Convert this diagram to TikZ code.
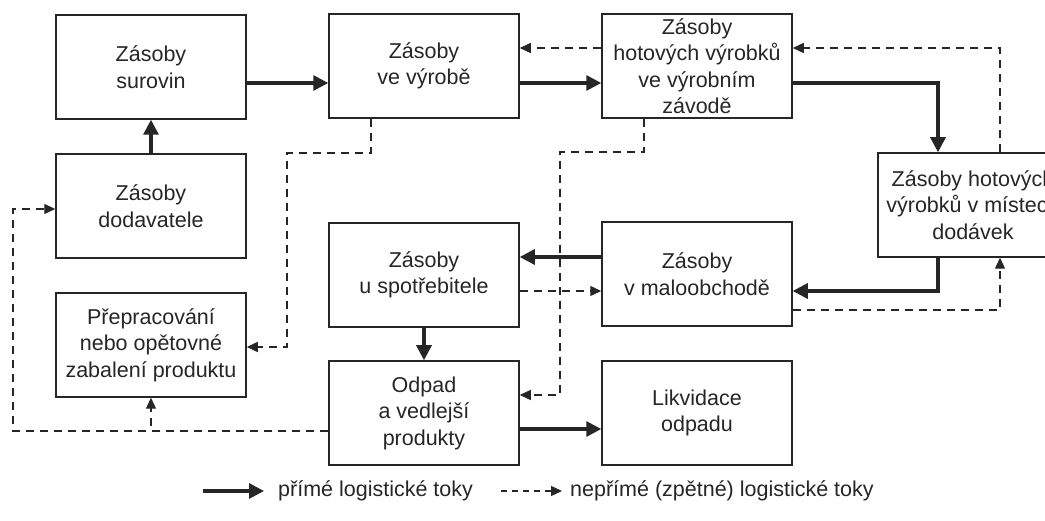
\documentclass[tikz,border=0pt]{standalone}
\usepackage{fontspec}
\setmainfont{Liberation Sans}
\usetikzlibrary{arrows.meta,calc}
\begin{document}
\begin{tikzpicture}[x=1pt,y=-1pt,
  box/.style={draw=black!85,line width=1.5pt,minimum width=190pt,minimum height=104pt,inner sep=0pt,align=center,font=\fontsize{21.5}{26.5}\selectfont,text=black!85},
  solidarrow/.style={draw=black!85,line width=3.2pt,-{Triangle[length=15pt,width=15pt]}},
  dasharrow/.style={draw=black!85,line width=1.4pt,dash pattern=on 8pt off 6pt,-{Triangle[length=11pt,width=10pt]}},
  legendtext/.style={anchor=west,inner sep=0pt,font=\fontsize{21.5}{26}\selectfont,text=black!85}]
\clip (0,0) rectangle (1045,521);
\fill[white] (0,0) rectangle (1045,521);
% nodes
\node[box] (sur) at (151,67) {Zásoby\\surovin};
\node[box] (vyr) at (424,66) {Zásoby\\ve výrobě};
\node[box] (hot) at (697,66) {Zásoby\\hotových výrobků\\ve výrobním\\závodě};
\node[box] (dod) at (151,206) {Zásoby\\dodavatele};
\node[box] (mis) at (973,205) {Zásoby hotových\\výrobků v místech\\dodávek};
\node[box] (spo) at (424,275) {Zásoby\\u spotřebitele};
\node[box] (mal) at (697,274) {Zásoby\\v maloobchodě};
\node[box] (pre) at (151,345) {Přepracování\\nebo opětovné\\zabalení produktu};
\node[box] (odp) at (424,413) {Odpad\\a vedlejší\\produkty};
\node[box] (lik) at (697,413) {Likvidace\\odpadu};
% direct flows
\draw[solidarrow] (sur.east |- 0,83) -- (vyr.west |- 0,83);
\draw[solidarrow] (dod.north) -- (sur.south);
\draw[solidarrow] (vyr.east |- 0,83) -- (hot.west |- 0,83);
\draw[solidarrow] (hot.east |- 0,83) -| (mis.north -| 938,0);
\draw[solidarrow] (mis.south -| 938,0) |- (mal.east |- 0,291);
\draw[solidarrow] (mal.west |- 0,257) -- (spo.east |- 0,257);
\draw[solidarrow] (spo.south) -- (odp.north);
\draw[solidarrow] (odp.east |- 0,429) -- (lik.west |- 0,429);
% indirect flows
\draw[dasharrow] (hot.west |- 0,48) -- (vyr.east |- 0,48);
\draw[dasharrow] (mis.north -| 1000,0) |- (hot.east |- 0,48);
\draw[dasharrow] (mal.east |- 0,310) -| (mis.south -| 1000,0);
\draw[dasharrow] (spo.east |- 0,291) -- (mal.west |- 0,291);
\draw[dasharrow] (hot.south -| 644,0) -- (644,152) -- (560,152) -- (560,395) -- (odp.east |- 0,395);
\draw[dasharrow] (vyr.south -| 371,0) -- (371,153) -- (287,153) -- (287,347) -- (pre.east |- 0,347);
\draw[dasharrow] (odp.west |- 0,431) -| (pre.south);
\draw[dasharrow] (odp.west |- 0,431) -- (13,431) -- (13,209) -- (dod.west |- 0,209);
% legend
\coordinate (l1a) at (203,491);
\coordinate (l1b) at (264,491);
\coordinate (l2a) at (501,491);
\coordinate (l2b) at (562,491);
\draw[solidarrow] (l1a) -- (l1b);
\node[legendtext] (lt1) at (278,491) {přímé logistické toky};
\draw[dasharrow,dash pattern=on 6pt off 5pt] (l2a) -- (l2b);
\node[legendtext] (lt2) at (570,491) {nepřímé (zpětné) logistické toky};
\end{tikzpicture}
\end{document}
